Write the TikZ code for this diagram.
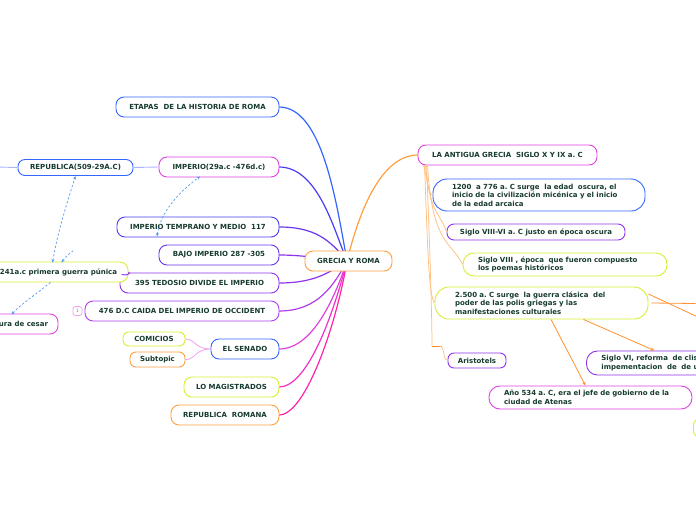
\documentclass[tikz,border=0pt]{standalone}
\usepackage{fontspec}
\setmainfont{DejaVu Sans}
\usetikzlibrary{arrows.meta}
\frenchspacing
\definecolor{txt}{HTML}{173B2F}
\definecolor{cblue}{HTML}{3366FF}
\definecolor{cblue2}{HTML}{4A3CF0}
\definecolor{cviol}{HTML}{6A35EE}
\definecolor{cpurp}{HTML}{8E33EE}
\definecolor{cpurp2}{HTML}{B03CEE}
\definecolor{cmag}{HTML}{E040E0}
\definecolor{cmag2}{HTML}{F030C8}
\definecolor{cpink}{HTML}{FF22AA}
\definecolor{cyel}{HTML}{D8EE30}
\definecolor{corg}{HTML}{FFA040}
\definecolor{corg2}{HTML}{FF9030}
\definecolor{ctree}{HTML}{FFC080}
\definecolor{crel}{HTML}{5599EE}
\definecolor{clav}{HTML}{AAB4FF}
\definecolor{cpinkl}{HTML}{F0A0F0}
\begin{document}
\begin{tikzpicture}[x=1pt,y=-1pt,
  box/.style={draw, fill=white, line width=0.9pt, rounded corners=8pt, text=txt,
    font=\fontsize{7}{8.5}\selectfont\bfseries, inner sep=0pt, minimum height=20pt},
  mbox/.style={box, rounded corners=11pt, align=left, inner xsep=0pt},
  br/.style={line width=1.2pt},
  tree/.style={draw=ctree, line width=0.75pt},
  rel/.style={draw=crel, line width=0.7pt, dash pattern=on 2.2pt off 2pt},
  oarr/.style={draw=corg2, line width=0.8pt},
  tip/.style={-{Stealth[length=4pt,width=3.5pt]}}
]
\useasboundingbox (0,0) rectangle (696,520);
\clip (0,0) rectangle (696,520);

% ---------- coordinates for free ends
\coordinate (cc) at (347,261);
\coordinate (offrep) at (-5,167);
\coordinate (rtop) at (73,251);
\coordinate (off2) at (700,318);

% ---------- branches from the centre (drawn first, nodes on top)
\draw[br, cblue]  (279,107) .. controls (322,107) and (336,200) .. (cc);
\draw[br, cblue2] (279,167) .. controls (318,167) and (334,230) .. (cc);
\draw[br, cviol]  (279,227) .. controls (315,227) and (330,240) .. (cc);
\draw[br, cpurp]  (279,255) .. controls (300,255) and (320,258) .. (cc);
\draw[br, cpurp]  (279,283) .. controls (315,283) and (330,272) .. (cc);
\draw[br, cpurp2] (279,311) .. controls (318,311) and (334,285) .. (cc);
\draw[br, cmag]   (279,349) .. controls (312,349) and (334,300) .. (cc);
\draw[br, cmag2]  (279,387) .. controls (308,387) and (334,312) .. (cc);
\draw[br, cpink]  (279,415) .. controls (306,415) and (337,322) .. (cc);
\draw[br, corg]   (cc) .. controls (362,200) and (385,155) .. (418,155);

% ---------- nodes left
\node[box, draw=corg, minimum width=87pt] (center) at (348.5,261) {GRECIA Y ROMA};
\node[box, draw=cblue, minimum width=163pt] (etapas) at (197.5,107) {ETAPAS\ \ DE LA HISTORIA DE ROMA};
\node[box, draw=cmag, minimum width=120pt] (imperio) at (219,167) {IMPERIO(29a.c -476d.c)};
\node[box, draw=cblue, minimum width=115pt, minimum height=16pt, rounded corners=7pt] (republica) at (75.5,167.5) {REPUBLICA(509-29A.C)};
\node[box, draw=cblue2, minimum width=162pt] (temprano) at (198,227) {IMPERIO TEMPRANO Y MEDIO\ \ 117};
\node[box, draw=cviol, minimum width=120pt] (bajo) at (219,255) {BAJO IMPERIO 287 -305};
\node[box, draw=cpurp, minimum width=159pt] (tedosio) at (199.5,283) {395 TEDOSIO DIVIDE EL IMPERIO};
\node[box, draw=cyel, minimum width=139pt] (punica) at (58.5,272) {241a.c primera guerra púnica};
\node[box, draw=cpurp2, minimum width=194pt] (caida) at (182,311) {476 D.C CAIDA DEL IMPERIO DE OCCIDENT};
\node[draw=cpinkl, line width=0.7pt, rounded corners=2.5pt, minimum width=9pt, minimum height=9pt, inner sep=0pt, text=gray, font=\fontsize{4.5}{5}\selectfont] (badge) at (77.5,311) {1};
\node[box, draw=cmag, minimum width=69pt] (cesar) at (23.5,324) {ura de cesar};
\node[box, draw=cblue, minimum width=68pt] (senado) at (245,349) {EL SENADO};
\node[box, draw=cyel, minimum width=62pt, minimum height=14pt, rounded corners=6pt] (comicios) at (154,339) {COMICIOS};
\node[box, draw=corg, minimum width=55pt, minimum height=15pt, rounded corners=6pt] (subtopic) at (157.5,359.5) {Subtopic};
\node[box, draw=cyel, minimum width=95pt] (magis) at (231.5,387) {LO MAGISTRADOS};
\node[box, draw=corg, minimum width=108pt] (romana) at (225,415) {REPUBLICA\ \ ROMANA};

% ---------- left connectors
\draw[clav, line width=0.9pt] (imperio.west) -- (republica.east);
\draw[clav, line width=0.9pt] (republica.west) -- (offrep);
\draw[cpurp, line width=0.9pt] (punica.east) .. controls (131,273) and (128,276) .. ([xshift=2pt,yshift=-2pt]tedosio.north west);
\draw[cpinkl, line width=0.8pt] (senado.west) .. controls (195,349) and (195,339) .. (comicios.east);
\draw[cpinkl, line width=0.8pt] (senado.west) .. controls (195,349) and (195,360) .. (subtopic.east);

% ---------- relationships (dashed)
\draw[rel, {Stealth[length=3.5pt,width=3pt]}-{Stealth[length=3.5pt,width=3pt]}] ([xshift=-6pt,yshift=-1pt]punica.north) .. controls (58,230) and (68,200) .. (republica.south);
\draw[rel, {Stealth[length=3.5pt,width=3pt]}-{Stealth[length=3.5pt,width=3pt]}] ([xshift=-41pt,yshift=1pt]temprano.south) .. controls (160,215) and (175,195) .. ([xshift=-19pt,yshift=1pt]imperio.south);
\draw[rel, {Stealth[length=3.5pt,width=3pt]}-] ([xshift=3pt,yshift=-1pt]punica.north) .. controls (66,256) and (70,253) .. (rtop);
\draw[rel, -{Stealth[length=3.5pt,width=3pt]}] ([xshift=-8pt]punica.south) .. controls (35,295) and (20,305) .. ([xshift=-12pt,yshift=-1pt]cesar.north);

% ---------- right side
\node[box, draw=cmag, minimum width=179pt] (grecia) at (507.5,155) {LA ANTIGUA GRECIA\ \ SIGLO X Y IX a. C};
\node[mbox, draw=cblue, minimum height=32pt, text width=174pt, inner xsep=19pt, rounded corners=14pt] (n1200) at (539,195)
  {1200\ \ a 776 a. C surge\ \ la edad\ \ oscura, el\\inicio de la civilización micénica y el inicio\\de la edad arcaica};
\node[box, draw=cpurp, minimum width=178pt, minimum height=16pt, rounded corners=7pt] (viiivi) at (536,232) {Siglo VIII-VI a. C justo en época oscura};
\node[mbox, draw=cyel, minimum height=23pt, text width=174pt, inner xsep=15pt] (viii) at (565,264.5)
  {Siglo VIII , época\ \ que fueron compuesto\\los poemas históricos};
\node[mbox, draw=cyel, minimum height=32pt, text width=173pt, inner xsep=20pt, rounded corners=14pt] (n2500) at (541.5,303)
  {2.500 a. C surge\ \ la guerra clásica\ \ del\\poder de las polis griegas y las\\manifestaciones culturales};
\node[box, draw=cpurp, minimum width=58pt, minimum height=15pt, rounded corners=6pt] (aristo) at (477,360.5) {Aristotels};
\node[mbox, draw=cpurp, minimum height=24pt, text width=130pt, inner xsep=15pt, anchor=west] (siglovi) at (586,363)
  {Siglo VI, reforma\ \ de clis\\impementacion\ \ de\ \ de u};
\node[mbox, draw=cmag, minimum height=23pt, text width=173pt, inner xsep=15pt] (ano) at (590.5,397.5)
  {Año 534 a. C, era el jefe de gobierno de la\\ciudad de Atenas};
\node[box, draw=cyel, minimum width=40pt, anchor=west] (offy) at (693,428) {};
\node[draw=corg2, line width=0.8pt, minimum width=30pt, minimum height=25pt, anchor=west] (offo) at (695.6,303.5) {};

% ---------- tree lines from LA ANTIGUA GRECIA
\draw[tree] ([xshift=6pt]grecia.south west) .. controls (427,180) and (429,195) .. (n1200.west);
\draw[tree] ([xshift=8pt]grecia.south west) .. controls (430,215) and (440,212) .. (viiivi.west);
\draw[tree] ([xshift=10pt]grecia.south west) .. controls (432,245) and (452,242) .. (viii.west);
\draw[tree] ([xshift=7pt]grecia.south west) .. controls (428,260) and (429,295) .. (n2500.west);
\draw[tree] ([xshift=9pt]grecia.south west) .. controls (430,250) and (432,320) .. (432,346);
\draw[corg2, line width=1pt] (432,346) -- (442,346);
\draw[tree] (440,346) .. controls (446,348) and (442,360) .. (aristo.west);

% ---------- orange arrows from 2.500
\draw[oarr] (n2500.east) ++(3,0) -- (offo.west);
\draw[oarr] ([yshift=9pt]n2500.east) -- (off2);
\draw[oarr, tip] ([xshift=42pt]n2500.south) -- ([xshift=-12pt]siglovi.north);
\draw[oarr, tip] ([xshift=9.5pt]n2500.south) -- ([xshift=-5pt]ano.north);

\end{tikzpicture}
\end{document}
